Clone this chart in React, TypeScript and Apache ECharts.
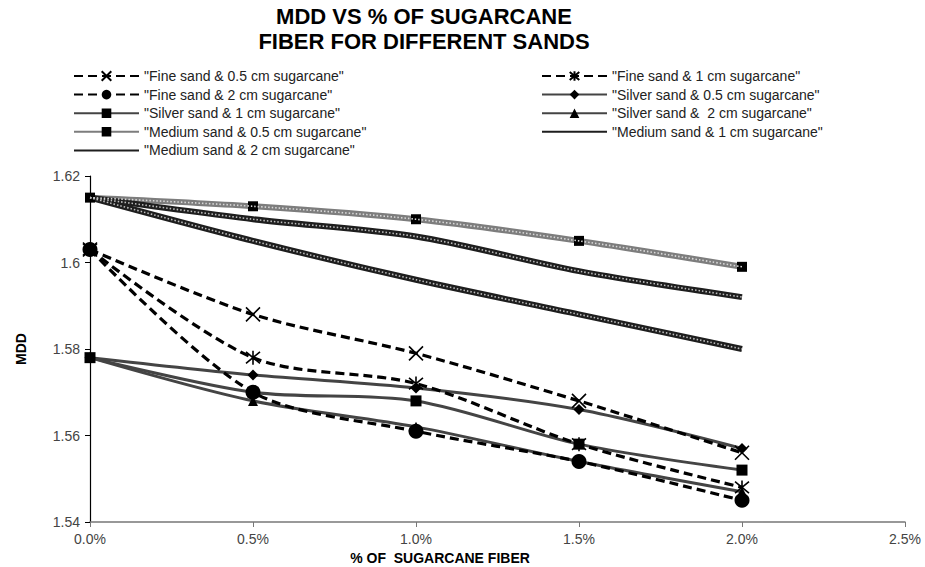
import React, { useEffect, useRef } from 'react';
import * as echarts from 'echarts';

// % of sugarcane fiber (fraction)
const xValues = [0, 0.005, 0.01, 0.015, 0.02];

const fine05 = [1.603, 1.588, 1.579, 1.568, 1.556];
const fine1 = [1.603, 1.578, 1.572, 1.558, 1.548];
const fine2 = [1.603, 1.57, 1.561, 1.554, 1.545];
const silver05 = [1.578, 1.574, 1.571, 1.566, 1.557];
const silver1 = [1.578, 1.57, 1.568, 1.558, 1.552];
const silver2 = [1.578, 1.568, 1.562, 1.554, 1.547];
const medium05 = [1.615, 1.613, 1.61, 1.605, 1.599];
const medium1 = [1.615, 1.61, 1.606, 1.598, 1.592];
const medium2 = [1.615, 1.605, 1.596, 1.588, 1.58];

const names = {
  fine05: '"Fine sand & 0.5 cm sugarcane"',
  fine1: '"Fine sand & 1 cm sugarcane"',
  fine2: '"Fine sand & 2 cm sugarcane"',
  silver05: '"Silver sand & 0.5 cm sugarcane"',
  silver1: '"Silver sand & 1 cm sugarcane"',
  silver2: '"Silver sand &  2 cm sugarcane"',
  medium05: '"Medium sand & 0.5 cm sugarcane"',
  medium1: '"Medium sand & 1 cm sugarcane"',
  medium2: '"Medium sand & 2 cm sugarcane"',
};

const titleLines = ['MDD VS % OF SUGARCANE', 'FIBER FOR DIFFERENT SANDS'];
const xAxisTitle = '% OF  SUGARCANE FIBER';
const yAxisTitle = 'MDD';

const FONT = '"Liberation Sans", Arial, Helvetica, sans-serif';

const pts = (ys: number[]) => xValues.map((x, i) => [x, ys[i]]);

const crossPath = 'path://M0,0L10,10M10,0L0,10';
const starPath = 'path://M0,0L10,10M10,0L0,10M5,-1L5,11';

export default function App() {
  const ref = useRef<HTMLDivElement>(null);
  useEffect(() => {
    const chart = echarts.init(ref.current!, null, { renderer: 'svg' });

    const dashed = (name: string, ys: number[], symbol: string, size: number, stroke: boolean) => ({
      name,
      type: 'line',
      data: pts(ys),
      smooth: 0.3,
      clip: false,
      symbol,
      symbolSize: size,
      showAllSymbol: true,
      lineStyle: { color: '#000', width: 3.2, type: [9, 5] },
      itemStyle: stroke
        ? { color: '#000', borderColor: '#000', borderWidth: 1.6 }
        : { color: '#000' },
      z: 4,
    });

    const solid = (name: string, ys: number[], symbol: string, size: number) => ({
      name,
      type: 'line',
      data: pts(ys),
      smooth: 0.3,
      clip: false,
      symbol,
      symbolSize: size,
      showAllSymbol: true,
      lineStyle: { color: '#444', width: 3 },
      itemStyle: { color: '#000' },
      z: 3,
    });

    const medium = (name: string, ys: number[], base: string, withMarker: boolean) => ({
      name,
      type: 'line',
      data: pts(ys),
      smooth: 0.3,
      clip: false,
      symbol: withMarker ? 'rect' : 'none',
      symbolSize: withMarker ? 10 : 0,
      showAllSymbol: true,
      lineStyle: { color: base, width: 6 },
      itemStyle: withMarker
        ? { color: '#000' }
        : { color: 'rgba(0,0,0,0)', borderColor: 'rgba(0,0,0,0)', borderWidth: 0 },
      z: 2,
    });

    const overlay = (id: string, ys: number[], color: string) => ({
      name: '_' + id,
      type: 'line',
      data: pts(ys),
      smooth: 0.3,
      clip: false,
      symbol: 'none',
      silent: true,
      lineStyle: { color, width: 1.6, type: [1.5, 2] },
      z: 2.5,
    });

    const option = {
      animation: false,
      backgroundColor: '#fff',
      textStyle: { fontFamily: FONT },
      graphic: [
        {
          type: 'text',
          x: 424,
          y: 4,
          style: {
            text: titleLines.join('\n'),
            textAlign: 'center',
            fill: '#000',
            font: `bold 22px ${FONT}`,
            lineHeight: 25,
          },
        },
        {
          type: 'text',
          x: 440,
          y: 551,
          style: {
            text: xAxisTitle,
            textAlign: 'center',
            fill: '#000',
            font: `bold 14px ${FONT}`,
          },
        },
      ],
      legend: [
        {
          orient: 'vertical',
          left: 68,
          top: 64,
          itemWidth: 65,
          itemHeight: 12,
          itemGap: 4.6,
          textStyle: { fontSize: 14, color: '#222', fontFamily: FONT },
          data: [names.fine05, names.fine2, names.silver1, names.medium05, names.medium2],
        },
        {
          orient: 'vertical',
          left: 536,
          top: 64,
          itemWidth: 65,
          itemHeight: 12,
          itemGap: 4.6,
          textStyle: { fontSize: 14, color: '#222', fontFamily: FONT },
          data: [names.fine1, names.silver05, names.silver2, names.medium1],
        },
      ],
      grid: { left: 90, right: 20, top: 176, bottom: 45, containLabel: false },
      xAxis: {
        type: 'value',
        min: 0,
        max: 0.025,
        interval: 0.005,
        splitLine: { show: false },
        axisLine: { show: true, lineStyle: { color: '#777', width: 1.5 } },
        axisTick: { show: true, length: 5, lineStyle: { color: '#777' } },
        axisLabel: {
          fontSize: 14,
          color: '#444',
          margin: 10,
          formatter: (v: number) => (v * 100).toFixed(1) + '%',
        },
      },
      yAxis: {
        type: 'value',
        min: 1.54,
        max: 1.62,
        interval: 0.02,
        name: yAxisTitle,
        nameLocation: 'middle',
        nameGap: 62,
        nameTextStyle: { fontSize: 14, fontWeight: 'bold', color: '#000' },
        splitLine: { show: false },
        axisLine: { show: true, lineStyle: { color: '#000', width: 1.2 } },
        axisTick: { show: true, length: 5, lineStyle: { color: '#000' } },
        axisLabel: {
          fontSize: 14,
          color: '#444',
          margin: 10,
          formatter: (v: number) => String(parseFloat(v.toFixed(2))),
        },
      },
      series: [
        medium(names.medium05, medium05, '#7d7d7d', true),
        overlay('m05', medium05, '#d8d8d8'),
        medium(names.medium1, medium1, '#1e1e1e', false),
        overlay('m1', medium1, '#bdbdbd'),
        medium(names.medium2, medium2, '#1e1e1e', false),
        overlay('m2', medium2, '#bdbdbd'),
        solid(names.silver05, silver05, 'diamond', 11),
        solid(names.silver1, silver1, 'rect', 11),
        solid(names.silver2, silver2, 'triangle', 10),
        dashed(names.fine05, fine05, crossPath, 14, true),
        dashed(names.fine1, fine1, starPath, 14, true),
        dashed(names.fine2, fine2, 'circle', 15, false),
      ],
    };

    chart.setOption(option as any);
    return () => chart.dispose();
  }, []);

  return (
    <div
      ref={ref}
      style={{ position: 'absolute', left: 0, top: 0, width: 925, height: 567 }}
    />
  );
}
